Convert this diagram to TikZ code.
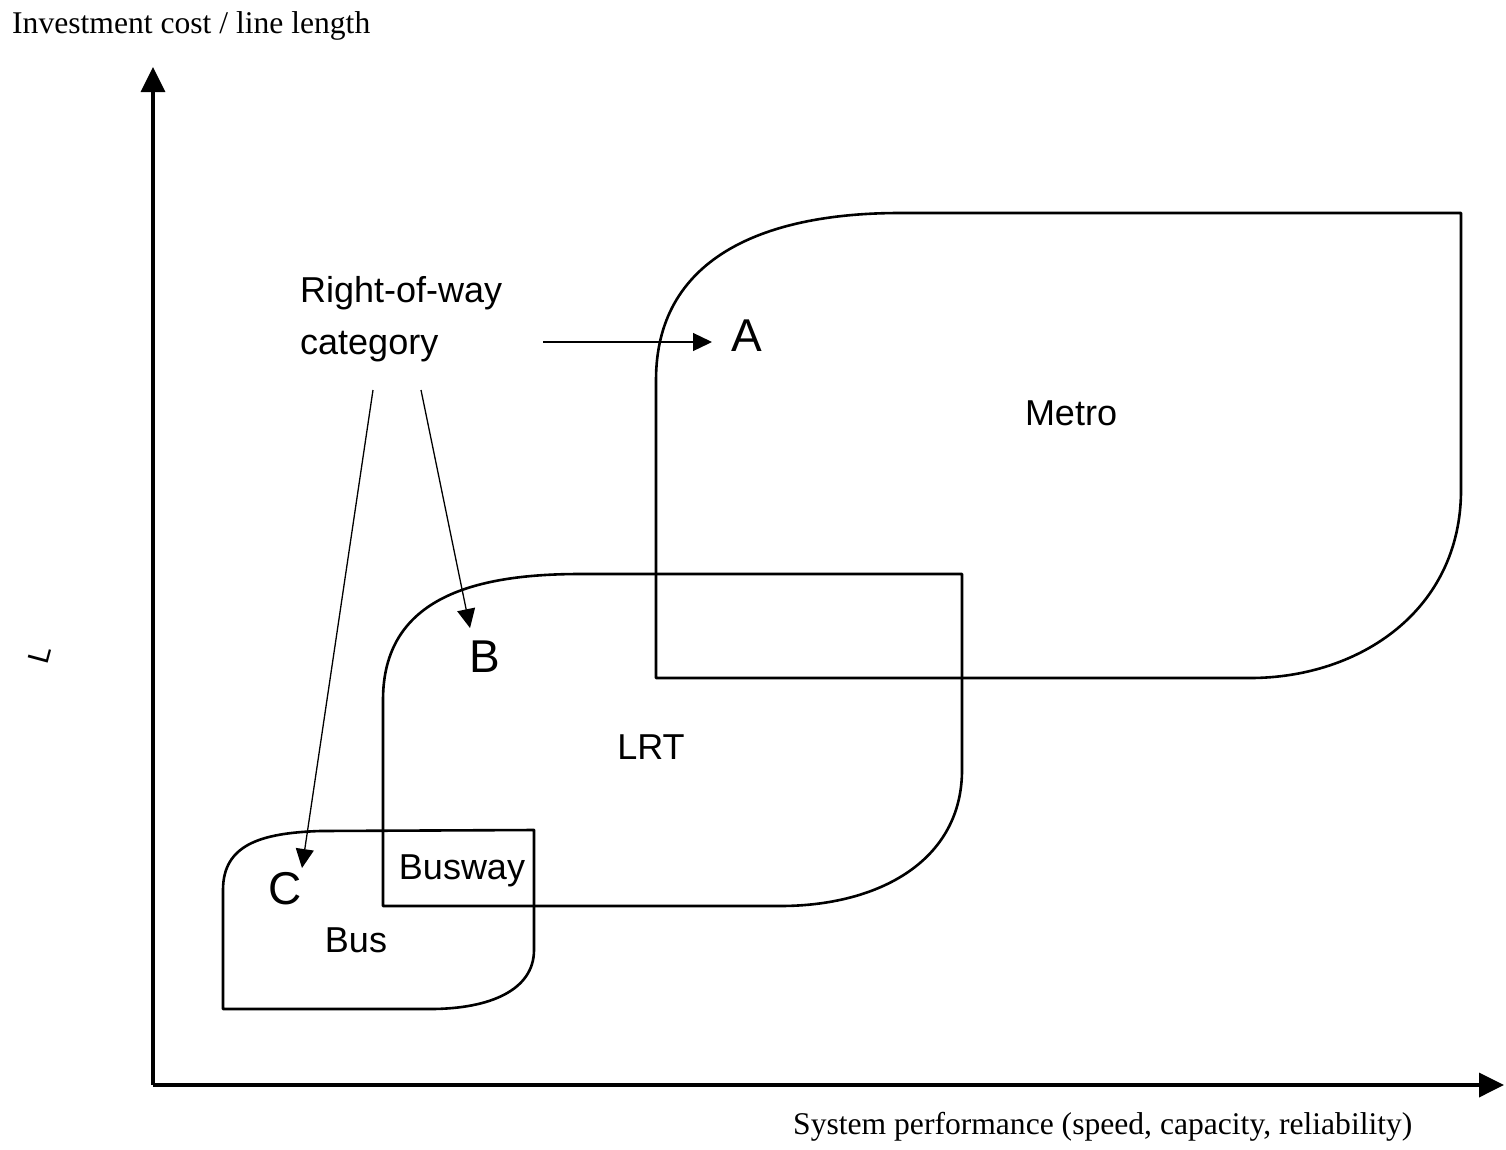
\documentclass[tikz,border=0pt]{standalone}
\usepackage{fontspec}
\setmainfont{Liberation Serif}
\newfontfamily\arialf{Liberation Sans}
\usetikzlibrary{arrows.meta}
\begin{document}
\begin{tikzpicture}[x=1pt,y=-1pt,
  axisline/.style={line width=3.5pt,-{Triangle[length=25pt,width=24pt]}},
  region/.style={line width=2.6pt,line join=round},
  pointer/.style={line width=1.3pt,-{Triangle[length=19pt,width=18pt]}},
  axlabel/.style={font=\fontsize{31.6}{36}\selectfont,inner sep=0pt},
  lab/.style={font=\arialf\fontsize{36}{52}\selectfont,inner sep=0pt},
  letter/.style={font=\arialf\fontsize{46}{52}\selectfont,inner sep=0pt}]
\useasboundingbox (0,0) rectangle (1506,1149);
% axes
\coordinate (O) at (153,1085);
\coordinate (ytip) at (153,67);
\coordinate (xtip) at (1504,1085);
\draw[axisline] (O) -- (ytip);
\draw[axisline] (O) -- (xtip);
\node[axlabel,anchor=base west] (ylab) at (12,33) {Investment cost / line length};
\node[axlabel,anchor=base west] (xlab) at (793,1134) {System performance (speed, capacity, reliability)};
\node[font=\arialf\fontsize{30}{34}\selectfont,inner sep=0pt,rotate=75] (Lmark) at (40,655) {L};
% Metro region
\draw[region] (656,380) .. controls (656,260) and (760,213) .. (900,213)
  -- (1461,213) -- (1461,490)
  .. controls (1461,610) and (1360,678) .. (1250,678)
  -- (656,678) -- cycle;
% LRT region
\draw[region] (383,700) .. controls (383,600) and (470,574) .. (580,574)
  -- (962,574) -- (962,770)
  .. controls (962,860) and (880,906) .. (780,906)
  -- (383,906) -- cycle;
% Bus region
\draw[region] (223,890) .. controls (223,845) and (260,833) .. (320,831)
  -- (534,830) -- (534,950)
  .. controls (534,990) and (490,1009) .. (430,1009)
  -- (223,1009) -- cycle;
% labels
\node[lab,anchor=base] (metro) at (1071,425) {Metro};
\node[lab,anchor=base] (lrt) at (651,759) {LRT};
\node[lab,anchor=base] (busway) at (462,879) {Busway};
\node[lab,anchor=base] (bus) at (356,952) {Bus};
\node[lab,anchor=base west,align=left] (cat) at (300,354) {Right-of-way\\category};
\node[letter,anchor=base] (A) at (747,351) {A};
\node[letter,anchor=base] (B) at (485,672) {B};
\node[letter,anchor=base] (C) at (285,904) {C};
% pointers
\coordinate (sA) at (543,342);
\coordinate (sC) at (373,390);
\coordinate (sB) at (421,390);
\coordinate (tA) at (712,342);
\coordinate (tB) at (470,628);
\coordinate (tC) at (302,868);
\draw[pointer] (sA) -- (tA);
\draw[pointer] (sB) -- (tB);
\draw[pointer] (sC) -- (tC);
\end{tikzpicture}
\end{document}
